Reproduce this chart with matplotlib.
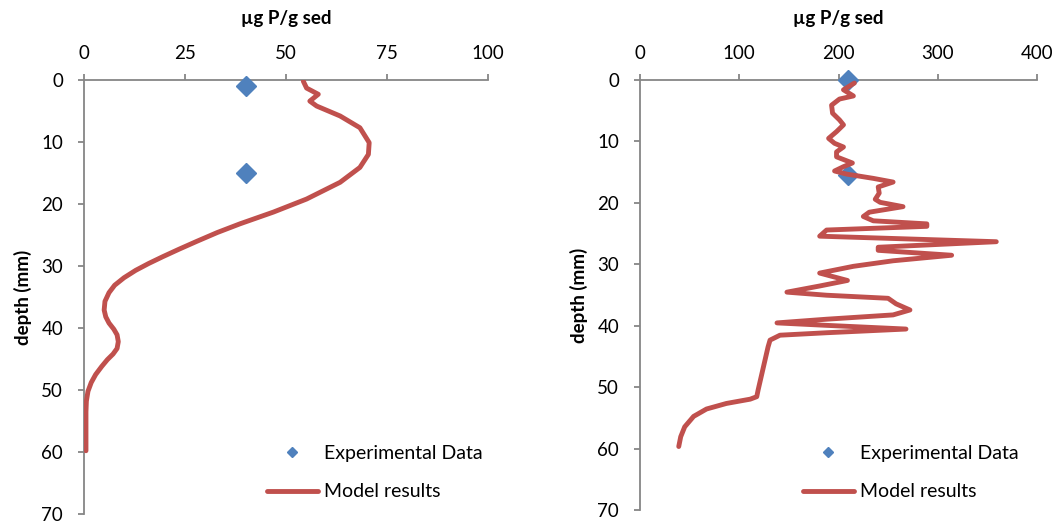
import matplotlib
matplotlib.use("Agg")
import matplotlib.pyplot as plt

plt.rcParams['font.family'] = ['Lato', 'DejaVu Sans']

# left panel
exp_x_left = [40, 40]
exp_depth_left = [1, 15]
model_x_left = [54.3, 55.1, 58.0, 55.9, 57.6, 63.4, 68.3, 70.6, 70.4, 68.3, 63.4, 55.1,
                46.9, 38.6, 33.0, 28.0, 23.5, 19.5, 16.0, 12.8, 9.9, 7.6, 6.2, 5.2, 5.0,
                5.4, 6.2, 7.4, 8.2, 8.5, 8.2, 7.2, 5.8, 4.4, 2.9, 1.8, 1.0, 0.6, 0.5,
                0.5, 0.5]
model_depth_left = [0.2, 1.3, 2.3, 3.4, 4.2, 5.8, 7.7, 10.1, 12.0, 14.1, 16.5, 19.2,
                    21.3, 23.2, 24.6, 26.0, 27.3, 28.5, 29.6, 30.7, 31.9, 33.1, 34.3, 35.7, 37.1,
                    38.2, 39.2, 40.2, 41.1, 42.2, 43.3, 44.2, 45.1, 46.2, 47.5, 48.8, 50.2, 51.8, 53.5,
                    56.9, 59.8]

# right panel
exp_x_right = [210, 210]
exp_depth_right = [0, 15.5]
model_x_right = [216, 205, 215, 201, 193, 194, 201, 205, 198, 190, 196, 205, 198, 198,
                 214, 205, 196, 208, 235, 255, 240, 241, 237, 242, 265, 231, 225, 235,
                 289, 289, 188, 181, 359, 240, 240, 314, 255, 215, 181, 209, 181, 148,
                 188, 250, 258, 272, 255, 188, 138, 188, 268, 188, 141, 131, 129, 119,
                 117.6, 111, 87, 67, 54, 45, 41, 39]
model_depth_right = [0.5, 1.6, 2.6, 3.1, 4.1, 5.4, 6.5, 7.3, 8.4, 9.5, 10.3, 10.9, 11.7, 12.5,
                     13.5, 14.1, 14.8, 15.3, 16.0, 16.6, 17.4, 18.4, 19.4, 19.9, 20.6, 21.5, 22.2, 22.9,
                     23.4, 23.8, 24.4, 25.4, 26.3, 27.2, 27.7, 28.5, 29.4, 30.3, 31.4, 32.6, 33.5, 34.5,
                     35.0, 35.5, 36.4, 37.4, 38.2, 38.9, 39.5, 39.9, 40.5, 41.1, 41.5, 42.3, 43.4, 50.4,
                     51.5, 51.9, 52.6, 53.5, 54.7, 56.4, 58.0, 59.6]

xticks_left = [0, 25, 50, 75, 100]
xticks_right = [0, 100, 200, 300, 400]
yticks = [0, 10, 20, 30, 40, 50, 60, 70]

red = '#C0504D'
blue = '#4F81BD'
gray = '#868686'
fs = 13.5

fig = plt.figure(figsize=(10.56, 5.24), dpi=100)
ax1 = fig.add_axes([0.0795, 0.0191, 0.3826, 0.8282])
ax2 = fig.add_axes([0.6061, 0.0258, 0.3759, 0.8216])

panels = [
    (ax1, exp_x_left, exp_depth_left, model_x_left, model_depth_left, xticks_left, 267),
    (ax2, exp_x_right, exp_depth_right, model_x_right, model_depth_right, xticks_right, 803),
]

for ax, ex, ed, mx, md, xt, leg_x in panels:
    ax.plot(ex, ed, linestyle='none', marker='D', markersize=10, color=blue,
            label='Experimental Data', zorder=3, clip_on=False)
    ax.plot(mx, md, color=red, linewidth=3.5, solid_joinstyle='round',
            solid_capstyle='round', label='Model results', zorder=4)

    ax.set_xlim(xt[0], xt[-1])
    ax.set_ylim(70, 0)
    ax.set_xticks(xt)
    ax.set_yticks(yticks)
    ax.xaxis.tick_top()
    ax.xaxis.set_label_position('top')

    for s in ['right', 'bottom']:
        ax.spines[s].set_visible(False)
    for s in ['left', 'top']:
        ax.spines[s].set_color(gray)
        ax.spines[s].set_linewidth(1.3)
    ax.tick_params(axis='x', direction='out', length=4, width=1.3, color=gray,
                   labelsize=fs, pad=9)
    ax.tick_params(axis='y', direction='out', length=4, width=1.3, color=gray,
                   labelsize=fs, pad=11)

    ax.set_xlabel('\u00b5g P/g sed', fontsize=fs, fontweight='bold', labelpad=15)
    ax.set_ylabel('depth (mm)', fontsize=fs, fontweight='bold', labelpad=7)

    ax.legend(loc='upper left', bbox_to_anchor=(leg_x / 1056, 1 - 445 / 524),
              bbox_transform=fig.transFigure, frameon=False, fontsize=14,
              handlelength=2.6, handletextpad=0.35, markerscale=0.55,
              labelspacing=1.1, borderpad=0, borderaxespad=0)

fig.savefig('out.png', dpi=100)
